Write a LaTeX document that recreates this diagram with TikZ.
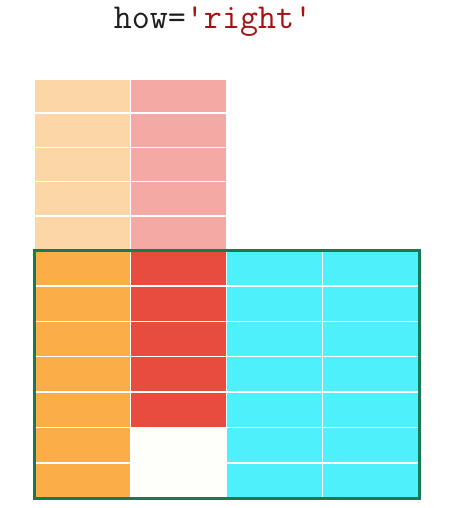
\documentclass[tikz,border=0pt]{standalone}
\usepackage{fontspec}
\usepackage{xcolor}
\definecolor{fadeorange}{HTML}{FDD6A8}
\definecolor{fadered}{HTML}{F5A9A4}
\definecolor{keeporange}{HTML}{FBAE47}
\definecolor{keepred}{HTML}{E84C3F}
\definecolor{keepcyan}{HTML}{4EF0FC}
\definecolor{emptycell}{HTML}{FEFEFB}
\definecolor{framegreen}{HTML}{157A55}
\definecolor{strred}{HTML}{A31515}
\usepackage{tikz}
\usetikzlibrary{positioning}

\begin{document}
\begin{tikzpicture}[
    x=1pt, y=-1pt,
    every node/.style={inner sep=0pt, outer sep=0pt},
    cell/.style={draw=white, line width=1.4pt, anchor=north west, minimum width=96.25pt, minimum height=35.4pt},
    top_cell/.style={cell, minimum height=34.2pt},
    result_frame/.style={draw=framegreen, line width=3pt}
]
  \useasboundingbox (0,0) rectangle (451,508);

  % Title
  \node[font=\ttfamily\fontsize{35}{35}\selectfont, text=black!88, anchor=base] (title) at (213,29) {how=\textcolor{strred}{'right'}};

  % Left table, rows dropped by the join
  \foreach \r in {0,...,4}{
    \node[top_cell, fill=fadeorange] (lo-\r) at (34,{79+\r*34.2}) {};
    \node[top_cell, fill=fadered] (lr-\r) at (130.25,{79+\r*34.2}) {};
  }

  % Rows kept in the result
  \foreach \r in {0,...,6}{
    \node[cell, fill=keeporange] (ko-\r) at (34,{250.5+\r*35.4}) {};
    \ifnum\r<5
      \node[cell, fill=keepred] (kr-\r) at (130.25,{250.5+\r*35.4}) {};
    \else
      \node[cell, fill=emptycell] (kr-\r) at (130.25,{250.5+\r*35.4}) {};
    \fi
    \node[cell, fill=keepcyan] (ca-\r) at (226.5,{250.5+\r*35.4}) {};
    \node[cell, fill=keepcyan] (cb-\r) at (322.75,{250.5+\r*35.4}) {};
  }

  % Result frame
  \draw[result_frame] (ko-0.north west) rectangle (cb-6.south east);

\end{tikzpicture}
\end{document}
